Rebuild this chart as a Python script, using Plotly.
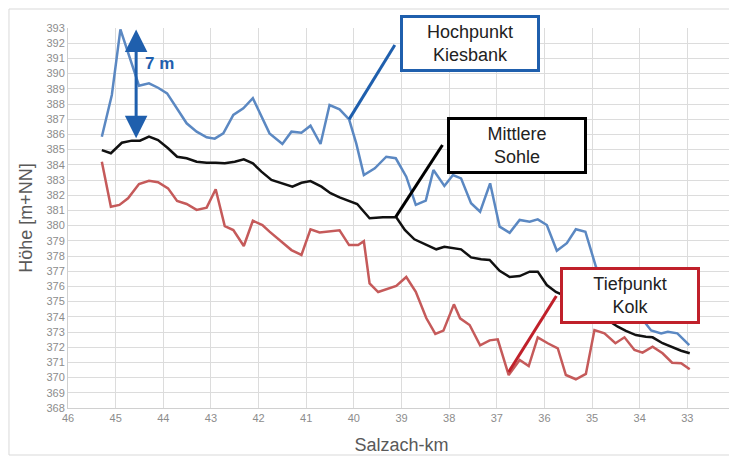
import plotly.graph_objects as go

# Salzach-km / Höhe [m+NN]
km_hoch = [45.29, 45.08, 44.90, 44.63, 44.51, 44.30, 44.11, 43.92, 43.72, 43.51, 43.30, 43.09,
           42.92, 42.74, 42.53, 42.32, 42.12, 41.91, 41.77, 41.50, 41.31, 41.10, 40.91, 40.70,
           40.51, 40.30, 40.10, 39.95, 39.79, 39.56, 39.32, 39.12, 38.90, 38.70, 38.49, 38.33,
           38.10, 37.92, 37.75, 37.54, 37.35, 37.14, 36.94, 36.73, 36.52, 36.31, 36.14, 35.95,
           35.74, 35.53, 35.34, 35.14, 34.92, 34.64, 34.32, 34.01, 33.76, 33.55, 33.41, 33.21, 32.96]
hoch = [385.85, 388.59, 392.91, 390.24, 389.20, 389.36, 389.07, 388.70, 387.72, 386.73, 386.18, 385.81,
        385.72, 386.07, 387.28, 387.72, 388.38, 386.95, 386.07, 385.37, 386.18, 386.11, 386.57, 385.37,
        387.93, 387.65, 386.99, 385.41, 383.33, 383.77, 384.53, 384.43, 383.22, 381.36, 381.64, 383.66,
        382.61, 383.33, 383.11, 381.47, 380.91, 382.78, 379.93, 379.53, 380.37, 380.26, 380.41, 380.04,
        378.35, 378.84, 379.76, 379.60, 377.30, 376.09, 375.10, 374.10, 373.10, 372.91, 373.02, 372.91, 372.14]

km_mittel = [45.29, 45.10, 44.87, 44.66, 44.49, 44.30, 44.11, 43.90, 43.71, 43.51, 43.30, 43.09,
             42.90, 42.71, 42.50, 42.31, 42.12, 41.94, 41.73, 41.52, 41.29, 41.10, 40.91, 40.68,
             40.49, 40.30, 40.10, 39.93, 39.67, 39.39, 39.11, 38.93, 38.73, 38.48, 38.27, 38.10,
             37.92, 37.75, 37.54, 37.33, 37.15, 36.94, 36.73, 36.52, 36.31, 36.14, 35.95, 35.76,
             35.37, 35.06, 34.74, 34.46, 34.29, 34.08, 33.87, 33.73, 33.52, 33.31, 33.13, 32.95]
mittel = [384.97, 384.76, 385.45, 385.59, 385.59, 385.85, 385.63, 385.09, 384.53, 384.43, 384.20, 384.14,
          384.14, 384.10, 384.20, 384.36, 384.10, 383.55, 383.00, 382.78, 382.56, 382.82, 382.93, 382.56,
          382.13, 381.86, 381.64, 381.42, 380.48, 380.55, 380.55, 379.71, 379.10, 378.72, 378.44, 378.61,
          378.51, 378.44, 377.91, 377.78, 377.74, 377.03, 376.62, 376.68, 376.97, 376.97, 376.09, 375.63,
          375.10, 374.58, 373.92, 373.35, 373.07, 372.80, 372.69, 372.65, 372.26, 371.97, 371.77, 371.60]

km_tief = [45.29, 45.10, 44.92, 44.74, 44.51, 44.30, 44.11, 43.90, 43.71, 43.51, 43.30, 43.09,
           42.90, 42.71, 42.53, 42.31, 42.12, 41.92, 41.77, 41.53, 41.31, 41.10, 40.91, 40.72,
           40.51, 40.30, 40.10, 39.91, 39.79, 39.67, 39.49, 39.32, 39.11, 38.90, 38.70, 38.48,
           38.29, 38.12, 37.90, 37.77, 37.57, 37.35, 37.15, 36.98, 36.75, 36.52, 36.33, 36.14,
           35.93, 35.72, 35.55, 35.34, 35.13, 34.95, 34.74, 34.51, 34.32, 34.11, 33.94, 33.73,
           33.52, 33.32, 33.13, 32.95]
tief = [384.20, 381.24, 381.36, 381.80, 382.74, 382.95, 382.85, 382.45, 381.62, 381.42, 381.03, 381.18,
        382.39, 379.97, 379.71, 378.66, 380.32, 380.04, 379.60, 379.00, 378.39, 378.07, 379.76, 379.55,
        379.61, 379.69, 378.72, 378.72, 378.97, 376.20, 375.63, 375.81, 376.03, 376.62, 375.65, 373.92,
        372.87, 373.09, 374.82, 373.90, 373.46, 372.12, 372.45, 372.52, 370.17, 371.16, 370.76, 372.65,
        372.26, 371.93, 370.17, 369.89, 370.24, 373.13, 372.91, 372.26, 372.65, 371.82, 371.64, 372.03,
        371.60, 370.98, 370.94, 370.55]

BLUE = '#1f5fad'
RED = '#c0202a'

fig = go.Figure()
fig.add_trace(go.Scatter(x=km_hoch, y=hoch, mode='lines', line=dict(color='#5b88c2', width=2.5)))
fig.add_trace(go.Scatter(x=km_mittel, y=mittel, mode='lines', line=dict(color='#111111', width=2.5)))
fig.add_trace(go.Scatter(x=km_tief, y=tief, mode='lines', line=dict(color='#c55a5a', width=2.5)))

# leader lines
fig.add_shape(type='line', x0=39.14, y0=391.88, x1=40.10, y1=386.99, line=dict(color=BLUE, width=3))
fig.add_shape(type='line', x0=38.14, y0=385.30, x1=39.12, y1=380.57, line=dict(color='black', width=3))
fig.add_shape(type='line', x0=35.75, y0=375.37, x1=36.75, y1=370.37, line=dict(color=RED, width=3))

# outer frame
fig.add_shape(type='rect', xref='paper', yref='paper', x0=-0.0885, x1=1.0015, y0=-0.1237, y1=1.05,
              line=dict(color='#d9d9d9', width=1))

box = dict(showarrow=False, bgcolor='white', borderwidth=3, borderpad=3, width=128, height=45,
           font=dict(family='Liberation Sans, Arial', size=18, color='#222222'))
fig.add_annotation(x=37.57, y=391.95, text='Hochpunkt<br>Kiesbank', bordercolor=BLUE, **box)
fig.add_annotation(x=36.57, y=385.30, text='Mittlere<br>Sohle', bordercolor='black', **box)
fig.add_annotation(x=34.20, y=375.37, text='Tiefpunkt<br>Kolk', bordercolor=RED, **box)

# 7 m double arrow
fig.add_annotation(x=44.57, y=392.9, ax=44.57, ay=385.65, axref='x', ayref='y', text='',
                   showarrow=True, arrowhead=2, arrowside='end+start', arrowsize=1.5,
                   arrowwidth=3, arrowcolor=BLUE)
fig.add_annotation(x=44.08, y=390.65, text='<b>7 m</b>', showarrow=False,
                   font=dict(family='Liberation Sans, Arial', size=17, color=BLUE))

# the page body has an 8px margin, so the margins are shifted to match
fig.update_layout(
    width=737, height=459,
    margin=dict(l=60, r=10, t=20, b=59),
    plot_bgcolor='white', paper_bgcolor='white',
    showlegend=False,
    font=dict(family='Liberation Sans Narrow, Liberation Sans, Arial', color='#8c8c8c'),
)
fig.update_xaxes(range=[46, 32], dtick=1, tick0=46, showgrid=True, gridcolor='#dcdcdc',
                 showline=True, linecolor='#d0d0d0', zeroline=False, ticks='', automargin=False,
                 tickfont=dict(size=11, color='#8c8c8c'),
                 title=dict(text='Salzach-km', font=dict(family='Liberation Sans, Arial', size=18, color='#595959'),
                            standoff=15))
fig.update_yaxes(range=[368, 393], dtick=1, tick0=368, showgrid=True, gridcolor='#dcdcdc',
                 showline=True, linecolor='#d0d0d0', zeroline=False, ticks='', automargin=False,
                 tickfont=dict(size=11, color='#8c8c8c'),
                 title=dict(text='Höhe [m+NN]', font=dict(family='Liberation Sans, Arial', size=18, color='#595959'),
                            standoff=9))

fig.write_html("out.html")
